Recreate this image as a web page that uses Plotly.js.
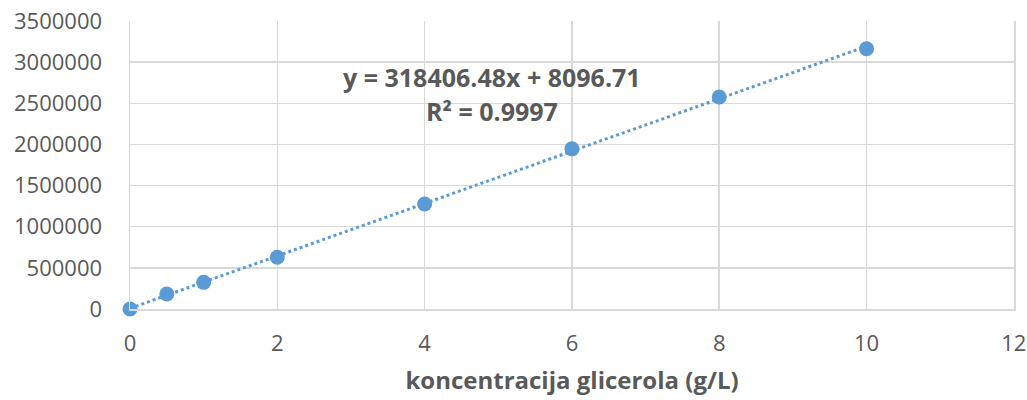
<!DOCTYPE html>
<html>
<head>
<meta charset="utf-8">
<script src="https://cdn.plot.ly/plotly-3.0.1.min.js"></script>
<style>html,body{margin:0;padding:0;background:#fff;}#chart{width:1027px;height:400px;}</style>
</head>
<body>
<div id="chart"></div>
<script>
// Data
const concentration = [0, 0.5, 1, 2, 4, 6, 8, 10];
const signal = [0, 183000, 324000, 629000, 1276000, 1946000, 2577000, 3162000];
const trendSlope = 318406.48;
const trendIntercept = 8096.71;
const rSquared = 0.9997;
const xTitle = 'koncentracija glicerola (g/L)';

const trendX = [Math.min(...concentration), Math.max(...concentration)];
const trendY = trendX.map(x => trendSlope * x + trendIntercept);

const blue = '#5b9bd5';
const grey = '#595959';
const font = 'Open Sans, Liberation Sans, sans-serif';

const traces = [
  {x: trendX, y: trendY, mode: 'lines', type: 'scatter',
   line: {color: blue, width: 3, dash: 'dot'}, hoverinfo: 'skip', showlegend: false},
  {x: concentration, y: signal, mode: 'markers', type: 'scatter', cliponaxis: false,
   marker: {color: blue, size: 15}, showlegend: false}
];

const layout = {
  width: 1027, height: 400,
  margin: {l: 130, r: 13, t: 21, b: 91},
  paper_bgcolor: '#fff', plot_bgcolor: '#fff',
  font: {family: font, color: grey, size: 22},
  xaxis: {
    range: [0, 12.002], tickvals: [0, 2, 4, 6, 8, 10, 12],
    showgrid: true, gridcolor: '#d9d9d9', gridwidth: 1.5,
    zeroline: false, showline: true, linecolor: '#d9d9d9', linewidth: 1.5,
    ticks: 'outside', ticklen: 14, tickcolor: 'rgba(0,0,0,0)',
    ticklabeloverflow: 'allow',
    tickfont: {family: font, size: 22, color: grey},
    title: {text: '<b>' + xTitle + '</b>', font: {family: font, size: 24, color: grey}, standoff: 16}
  },
  yaxis: {
    range: [0, 3500000], dtick: 500000, tick0: 0,
    showgrid: true, gridcolor: '#d9d9d9', gridwidth: 1.5,
    zeroline: false, showline: true, mirror: true, linecolor: '#d9d9d9', linewidth: 1.5,
    ticks: 'outside', ticklen: 22, tickcolor: 'rgba(0,0,0,0)',
    tickformat: 'd',
    tickfont: {family: font, size: 22, color: grey}
  },
  annotations: [
    {xref: 'paper', yref: 'paper', x: 0.409, y: 0.806, xanchor: 'center', yanchor: 'middle', showarrow: false,
     text: '<b>y = ' + trendSlope.toFixed(2) + 'x + ' + trendIntercept.toFixed(2) + '</b>',
     font: {family: font, size: 25, color: grey}},
    {xref: 'paper', yref: 'paper', x: 0.409, y: 0.688, xanchor: 'center', yanchor: 'middle', showarrow: false,
     text: '<b>R² = ' + rSquared.toFixed(4) + '</b>',
     font: {family: font, size: 25, color: grey}}
  ]
};

Plotly.newPlot('chart', traces, layout, {displayModeBar: false, staticPlot: true});
</script>
</body>
</html>
